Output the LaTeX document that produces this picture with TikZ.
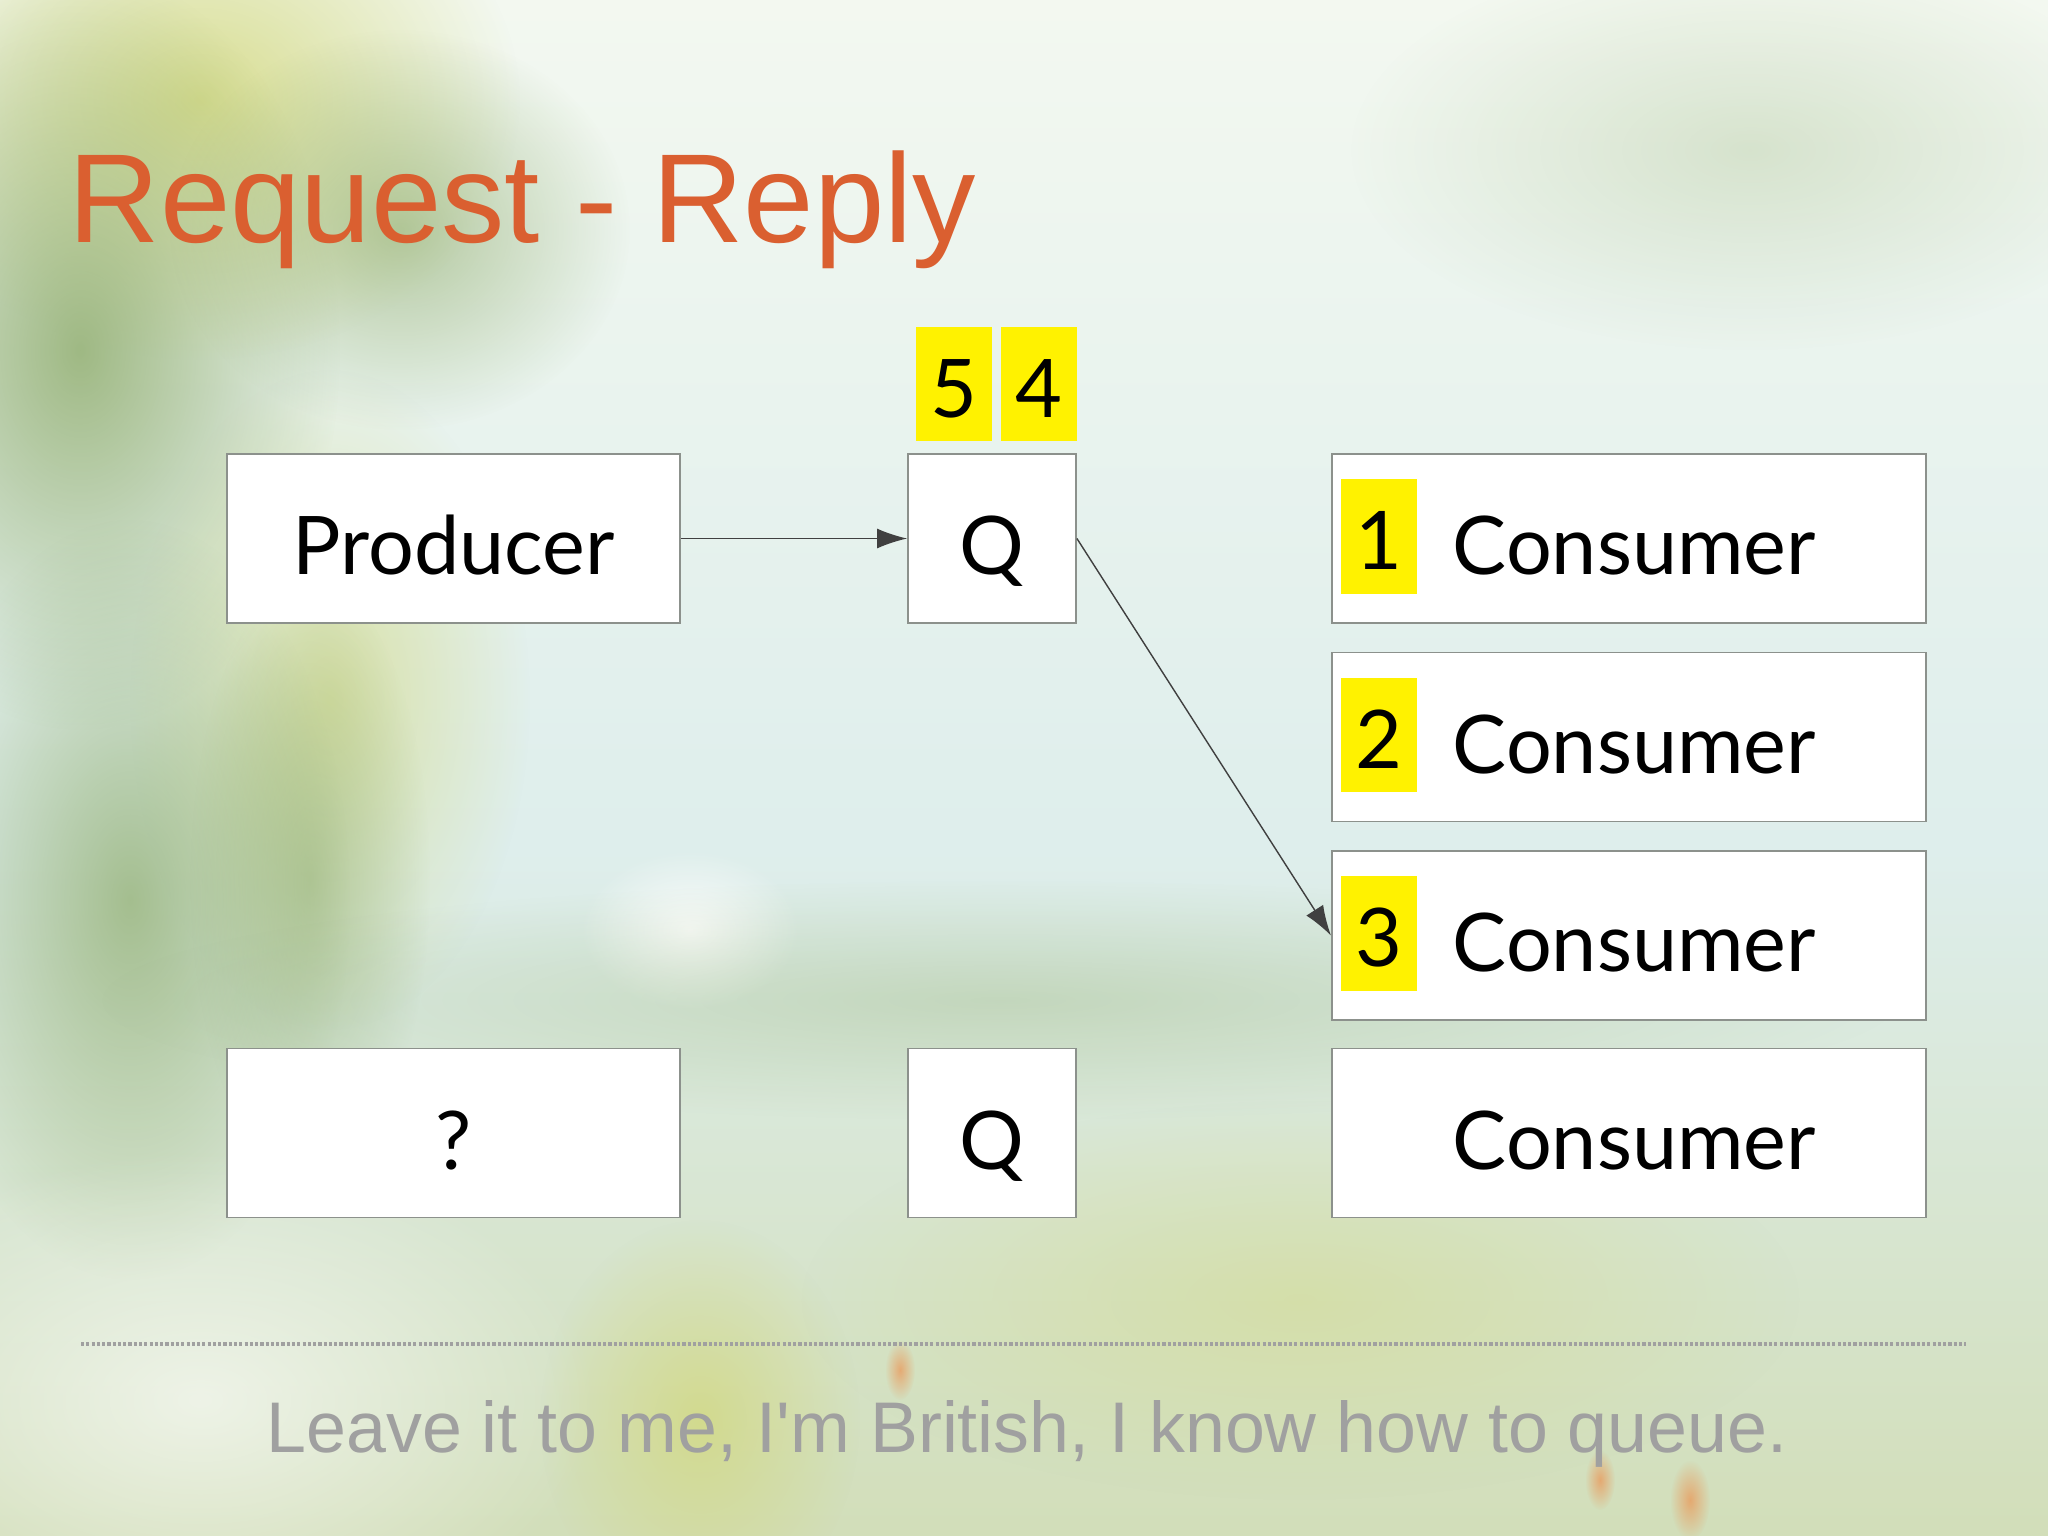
\documentclass[tikz,border=0pt]{standalone}
\usepackage{fontspec}
\setmainfont{Lato}
\newfontfamily\arialfont{Liberation Sans}
\usetikzlibrary{arrows.meta,fadings}
\tikzfading[name=softblob, inner color=transparent!0, outer color=transparent!100]
\definecolor{titlecol}{RGB}{218,95,48}
\definecolor{footcol}{RGB}{160,160,160}
\definecolor{boxline}{RGB}{140,145,140}
\definecolor{bgbase}{RGB}{230,240,230}
\definecolor{treegreen}{RGB}{140,170,105}
\definecolor{treeyellow}{RGB}{210,215,120}
\definecolor{grass}{RGB}{210,222,185}
\definecolor{skycol}{RGB}{243,248,240}
\definecolor{mistblue}{RGB}{222,238,236}
\tikzset{
  boxnode/.style={draw=boxline, line width=0.5pt, fill=white, inner sep=0pt, minimum height=1.69cm},
  boxtext/.style={font=\fontsize{23}{27}\selectfont, text height=0.72cm, text depth=0cm},
  ylabel/.style={fill=yellow, inner sep=0pt, minimum width=0.75cm, minimum height=1.14cm,
     font=\fontsize{23}{27}\selectfont, text height=0.66cm, text depth=0cm},
  flow/.style={draw=black!75, line width=0.4pt, -{Latex[length=0.3cm,width=0.2cm]}},
  blob/.style={path fading=softblob}
}
\begin{document}
\begin{tikzpicture}[x=0.01cm,y=-0.01cm]
% background
\useasboundingbox (0,0) rectangle (2048,1536);
\fill[bgbase] (0,0) rectangle (2048,1536);
\shade[top color=skycol, bottom color=mistblue] (0,0) rectangle (2048,850);
\shade[top color=mistblue, bottom color=grass] (0,850) rectangle (2048,1536);
% tree region (left)
\fill[treeyellow, blob, opacity=0.8] (200,100) ellipse (320 and 260);
\fill[treegreen, blob, opacity=0.8] (80,350) ellipse (260 and 380);
\fill[treegreen, blob, opacity=0.6] (400,230) ellipse (230 and 200);
\fill[treeyellow, blob, opacity=0.6] (330,700) ellipse (200 and 330);
\fill[treegreen, blob, opacity=0.7] (130,900) ellipse (220 and 380);
\fill[treegreen, blob, opacity=0.5] (310,880) ellipse (120 and 300);
\fill[treegreen, blob, opacity=0.25] (1750,150) ellipse (400 and 200);
% road and grass
\fill[white, blob, opacity=0.6] (200,1400) ellipse (400 and 250);
\fill[treeyellow, blob, opacity=0.7] (700,1420) ellipse (160 and 200);
\fill[treeyellow, blob, opacity=0.4] (1300,1300) ellipse (500 and 200);
% distant house / field
\fill[white, blob, opacity=0.9] (690,930) ellipse (110 and 80);
\fill[treegreen, blob, opacity=0.3] (1000,1000) ellipse (900 and 120);
% flowers
\fill[orange!70!red, blob, opacity=0.4] (900,1370) ellipse (15 and 30);
\fill[orange!70!red, blob, opacity=0.4] (1690,1500) ellipse (20 and 40);
\fill[orange!70!red, blob, opacity=0.4] (1600,1480) ellipse (15 and 30);

% title
\node[anchor=base west, inner sep=0pt, text=titlecol, font=\arialfont\fontsize{36}{40}\selectfont] (title) at (68,242) {Request - Reply};

% boxes
\node[boxnode, minimum width=4.53cm, boxtext] (prod) at (453.5,538.5) {Producer};
\node[boxnode, minimum width=1.68cm, boxtext] (q1) at (992,538.5) {Q};
\node[ylabel] (n5) at (954,384) {5};
\node[ylabel] (n4) at (1039,384) {4};

\node[boxnode, minimum width=5.94cm] (c1) at (1629,538.5) {};
\node[boxnode, minimum width=5.94cm] (c2) at (1629,737) {};
\node[boxnode, minimum width=5.94cm] (c3) at (1629,935.5) {};
\node[boxnode, minimum width=5.94cm] (c4) at (1629,1133) {};

\node[ylabel] (l1) at (1379,536.5) {1};
\node[ylabel] (l2) at (1379,735) {2};
\node[ylabel] (l3) at (1379,933.5) {3};

\node[boxtext, anchor=west, inner sep=0pt] (t1) at (1452,538.5) {Consumer};
\node[boxtext, anchor=west, inner sep=0pt] (t2) at (1452,737) {Consumer};
\node[boxtext, anchor=west, inner sep=0pt] (t3) at (1452,935.5) {Consumer};
\node[boxtext, anchor=west, inner sep=0pt] (t4) at (1452,1133) {Consumer};

\node[boxnode, minimum width=4.53cm, boxtext] (unk) at (453.5,1133) {?};
\node[boxnode, minimum width=1.68cm, boxtext] (q2) at (992,1133) {Q};

% connectors
\draw[flow] (prod.east) -- (q1.west);
\draw[flow] (q1.east) -- (c3.west);

% footer
\coordinate (dl) at (81,1344);
\coordinate (dr) at (1966,1344);
\draw[footcol, line width=1.2pt, dash pattern=on 0.9pt off 0.6pt] (dl) -- (dr);
\node[anchor=base, inner sep=0pt, text=footcol, font=\arialfont\fontsize{20.4}{24}\selectfont] (foot) at (1027,1452) {Leave it to me, I'm British, I know how to queue.};
\end{tikzpicture}
\end{document}
